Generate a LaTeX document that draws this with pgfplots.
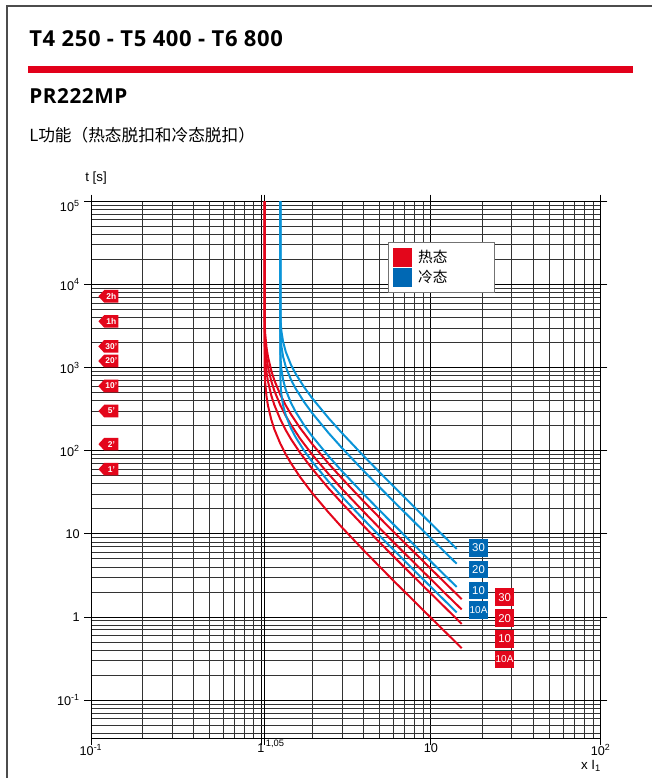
\documentclass[border=0pt]{standalone}
\usepackage{fontspec}
\usepackage{pgfplots}
\pgfplotsset{compat=1.18}
\usetikzlibrary{shapes.symbols}
\setmainfont{Liberation Sans}
\newfontfamily\cjk{Noto Sans CJK SC}
\newfontfamily\headfont{Open Sans}[LetterSpace=3]
\definecolor{abbred}{HTML}{E2001A}
\definecolor{hotline}{HTML}{E3061B}
\definecolor{coldline}{HTML}{0A94D8}
\definecolor{coldbox}{HTML}{0068B4}

\begin{document}
\begin{tikzpicture}[x=0.75pt,y=-0.75pt,
  tag/.style={signal, signal to=west, signal pointer angle=95, fill=hotline, text=white,
    inner xsep=1pt, inner ysep=0pt, minimum height=9.5pt, minimum width=15pt,
    anchor=east, font=\bfseries\fontsize{6.3}{6.5}\selectfont},
  cbox/.style={fill=coldbox, text=white, inner sep=0pt, minimum width=13.8pt,
    minimum height=13.2pt, font=\fontsize{8.5}{9}\selectfont},
  hbox/.style={cbox, fill=hotline}]
\useasboundingbox (0,0) rectangle (652,778);
% page frame and header
\draw[black!70, line width=1.1pt] (7,6) rectangle (760,900);
\node[anchor=base west, inner sep=0pt, font=\headfont\bfseries\fontsize{16.5}{19}\selectfont] at (29,46.7) {T4 250 - T5 400 - T6 800};
\fill[abbred] (28,65.7) rectangle (633,73.3);
\node[anchor=base west, inner sep=0pt, font=\headfont\bfseries\fontsize{15.5}{18}\selectfont] at (29,103) {PR222MP};
\node[anchor=base west, inner sep=0pt, font=\cjk\fontsize{12.5}{15}\selectfont] at (29,141) {L功能（热态脱扣和冷态脱扣）};

\begin{axis}[
  at={(68.25pt,-553.5pt)}, anchor=south west,
  scale only axis, width=382.3pt, height=402.5pt,
  xmode=log, ymode=log,
  xmin=0.1, xmax=100, ymin=0.035, ymax=100000,
  xtick={0.1,1,10,100},
  xticklabels={10\textsuperscript{-1},1,10,10\textsuperscript{2}},
  ytick={0.1,1,10,100,1000,10000,100000},
  yticklabels={10\textsuperscript{-1},1,10,10\textsuperscript{2},10\textsuperscript{3},10\textsuperscript{4},\smash{\raisebox{-7.5pt}{10\textsuperscript{5}}}},
  minor xtick={0.2,0.3,0.4,0.5,0.6,0.7,0.8,0.9,2,3,4,5,6,7,8,9,20,30,40,50,60,70,80,90},
  minor ytick={0.04,0.05,0.06,0.07,0.08,0.09,0.2,0.3,0.4,0.5,0.6,0.7,0.8,0.9,2,3,4,5,6,7,8,9,20,30,40,50,60,70,80,90,200,300,400,500,600,700,800,900,2000,3000,4000,5000,6000,7000,8000,9000,20000,30000,40000,50000,60000,70000,80000,90000},
  extra x ticks={1.05},
  extra x tick labels={{\fontsize{7}{8}\selectfont 1{,}05}},
  extra x tick style={grid=major, xticklabel style={anchor=north west, xshift=-2.5pt, yshift=3pt}},
  grid=both,
  major grid style={black, line width=0.6pt},
  minor grid style={black!80, line width=0.6pt},
  tick align=outside, major tick length=5pt, minor tick length=0pt,
  tick style={black, line width=0.6pt},
  axis line style={black, line width=0.7pt},
  tick label style={font=\fontsize{9.5}{11}\selectfont},
  xticklabel style={yshift=4pt},
  legend style={at={(0.5827,0.9242)}, anchor=north west, draw=black!55, line width=0.75pt,
    fill=white, font=\cjk\fontsize{11}{13}\selectfont, inner xsep=3pt, inner ysep=3.5pt,
    row sep=0.6pt, cells={anchor=west},
    /tikz/every odd column/.append style={column sep=3pt}},
]
\addlegendimage{legend image code/.code={\fill[hotline] (0pt,-6.75pt) rectangle (13.5pt,6.75pt);}}
\addlegendentry{\makebox[52pt][l]{热态}}
\addlegendimage{legend image code/.code={\fill[coldbox] (0pt,-6.75pt) rectangle (13.5pt,6.75pt);}}
\addlegendentry{\makebox[52pt][l]{冷态}}

% hot state (red), classes 10A, 10, 20, 30
\addplot[hotline, line width=1.5pt, forget plot] coordinates {
 (1.05,100000) (1.051,1134) (1.055,799) (1.06,658) (1.08,443) (1.1,350) (1.15,238) (1.2,181)
 (1.3,122) (1.4,90.6) (1.5,71.1) (1.7,48.3) (2,31.1) (2.5,18.1) (3,11.95) (4,6.42)
 (5,4.03) (6,2.76) (8,1.54) (10,0.98) (12,0.679) (15.2,0.422)};
\addplot[hotline, line width=1.5pt, forget plot] coordinates {
 (1.05,100000) (1.051,2219) (1.055,1564) (1.06,1287) (1.08,867) (1.1,686) (1.15,465) (1.2,355)
 (1.3,239) (1.4,177) (1.5,139) (1.7,94.6) (2,60.9) (2.5,35.3) (3,23.4) (4,12.6)
 (5,7.88) (6,5.41) (8,3.01) (10,1.92) (12,1.33) (15.2,0.826)};
\addplot[hotline, line width=1.5pt, forget plot] coordinates {
 (1.05,100000) (1.051,3293) (1.055,2321) (1.06,1911) (1.08,1286) (1.1,1017) (1.15,691) (1.2,526)
 (1.3,354) (1.4,263) (1.5,207) (1.7,140) (2,90.3) (2.5,52.5) (3,34.7) (4,18.7)
 (5,11.7) (6,8.03) (8,4.47) (10,2.85) (12,1.97) (15.2,1.23)};
\addplot[hotline, line width=1.5pt, forget plot] coordinates {
 (1.05,100000) (1.051,4400) (1.055,3101) (1.06,2553) (1.08,1719) (1.1,1359) (1.15,923) (1.2,703)
 (1.3,473) (1.4,352) (1.5,276) (1.7,188) (2,121) (2.5,70.1) (3,46.4) (4,24.9)
 (5,15.6) (6,10.7) (8,5.97) (10,3.80) (12,2.63) (15.2,1.64)};

% cold state (blue), classes 10A, 10, 20, 30
\addplot[coldline, line width=1.5pt, forget plot] coordinates {
 (1.3,100000) (1.301,874.5) (1.305,657.9) (1.31,565.1) (1.32,473) (1.35,353.8) (1.4,267.6)
 (1.5,187.7) (1.6,145.7) (1.8,99.54) (2,74.12) (2.5,42.57) (3,28.08) (4,15.07)
 (5,9.449) (6,6.491) (8,3.613) (10,2.301) (12,1.594) (14.2,1.136)};
\addplot[coldline, line width=1.5pt, forget plot] coordinates {
 (1.3,100000) (1.301,1768) (1.305,1330) (1.31,1143) (1.32,956.6) (1.35,715.5) (1.4,541.1)
 (1.5,379.7) (1.6,294.6) (1.8,201.3) (2,149.9) (2.5,86.08) (3,56.78) (4,30.47)
 (5,19.11) (6,13.13) (8,7.305) (10,4.653) (12,3.223) (14.2,2.298)};
\addplot[coldline, line width=1.5pt, forget plot] coordinates {
 (1.3,100000) (1.301,3362) (1.305,2529) (1.31,2173) (1.32,1819) (1.35,1360) (1.4,1029)
 (1.5,721.8) (1.6,560.2) (1.8,382.7) (2,284.9) (2.5,163.6) (3,107.95) (4,57.92)
 (5,36.32) (6,24.95) (8,13.89) (10,8.846) (12,6.127) (14.2,4.368)};
\addplot[coldline, line width=1.5pt, forget plot] coordinates {
 (1.3,100000) (1.301,5079) (1.305,3820) (1.31,3282) (1.32,2747) (1.35,2055) (1.4,1554)
 (1.5,1090) (1.6,846.2) (1.8,578) (2,430.4) (2.5,247.2) (3,163.1) (4,87.5)
 (5,54.87) (6,37.69) (8,20.98) (10,13.36) (12,9.255) (14.2,6.599)};

% time markers on the left
\node[tag] at (axis cs:0.1456,7200) {2h};
\node[tag] at (axis cs:0.1456,3600) {1h};
\node[tag] at (axis cs:0.1456,1800) {30'};
\node[tag] at (axis cs:0.1456,1200) {20'};
\node[tag] at (axis cs:0.1456,600) {10'};
\node[tag] at (axis cs:0.1456,300) {5'};
\node[tag] at (axis cs:0.1456,120) {2'};
\node[tag] at (axis cs:0.1456,60) {1'};

% trip class labels
\node[cbox] at (axis cs:19.09,6.77) {30};
\node[cbox] at (axis cs:19.09,3.73) {20};
\node[cbox] at (axis cs:19.09,2.085) {10};
\node[cbox, font=\fontsize{7.5}{8}\selectfont] at (axis cs:19.09,1.216) {10A};
\node[hbox] at (axis cs:27.16,1.728) {30};
\node[hbox] at (axis cs:27.16,0.966) {20};
\node[hbox] at (axis cs:27.16,0.5445) {10};
\node[hbox, font=\fontsize{7.5}{8}\selectfont] at (axis cs:27.16,0.3087) {10A};
\end{axis}

\node[font=\fontsize{10}{12}\selectfont] at (96,178) {t [s]};
\node[font=\fontsize{10}{12}\selectfont] at (591,766) {x I\textsubscript{1}};
\end{tikzpicture}
\end{document}
